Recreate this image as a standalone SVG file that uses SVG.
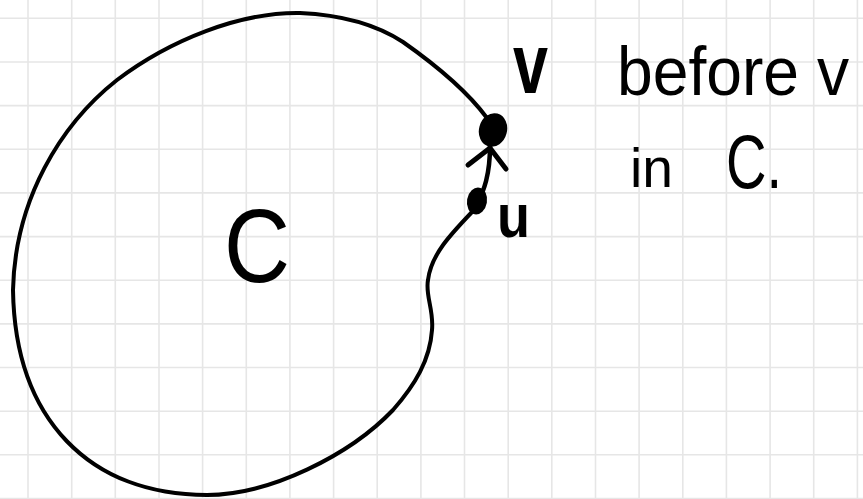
<svg xmlns="http://www.w3.org/2000/svg" width="863" height="499" viewBox="0 0 863 499">
<style>
.grid line{stroke:#e6e6e6;stroke-width:1.6}
.ink{fill:none;stroke:#000;stroke-linecap:round;stroke-linejoin:round}
.dot{fill:#000}
.hand{font-family:"Liberation Sans","DejaVu Sans",sans-serif;fill:#000}
</style>
<rect width="863" height="499" fill="#fff"/>
<g id="grid" class="grid">
<line x1="28" y1="0" x2="28" y2="499"/><line x1="71.7" y1="0" x2="71.7" y2="499"/><line x1="115.3" y1="0" x2="115.3" y2="499"/><line x1="159" y1="0" x2="159" y2="499"/><line x1="202.6" y1="0" x2="202.6" y2="499"/><line x1="246.3" y1="0" x2="246.3" y2="499"/><line x1="289.9" y1="0" x2="289.9" y2="499"/><line x1="333.6" y1="0" x2="333.6" y2="499"/><line x1="377.2" y1="0" x2="377.2" y2="499"/><line x1="420.9" y1="0" x2="420.9" y2="499"/><line x1="464.5" y1="0" x2="464.5" y2="499"/><line x1="508.2" y1="0" x2="508.2" y2="499"/><line x1="551.8" y1="0" x2="551.8" y2="499"/><line x1="595.5" y1="0" x2="595.5" y2="499"/><line x1="639.1" y1="0" x2="639.1" y2="499"/><line x1="682.8" y1="0" x2="682.8" y2="499"/><line x1="726.4" y1="0" x2="726.4" y2="499"/><line x1="770.1" y1="0" x2="770.1" y2="499"/><line x1="813.7" y1="0" x2="813.7" y2="499"/><line x1="857.4" y1="0" x2="857.4" y2="499"/>
<line x1="0" y1="18.3" x2="863" y2="18.3"/><line x1="0" y1="62" x2="863" y2="62"/><line x1="0" y1="105.6" x2="863" y2="105.6"/><line x1="0" y1="149.3" x2="863" y2="149.3"/><line x1="0" y1="192.9" x2="863" y2="192.9"/><line x1="0" y1="236.6" x2="863" y2="236.6"/><line x1="0" y1="280.2" x2="863" y2="280.2"/><line x1="0" y1="323.9" x2="863" y2="323.9"/><line x1="0" y1="367.5" x2="863" y2="367.5"/><line x1="0" y1="411.2" x2="863" y2="411.2"/><line x1="0" y1="454.8" x2="863" y2="454.8"/><line x1="0" y1="498.5" x2="863" y2="498.5"/>
</g>
<g id="connectors">
<path class="ink" stroke-width="4" d="M487,118 C470,95 440,68 403,42 C380,27 345,15 300,13 C240,12 170,40 117,80 C60,125 15,200 13,290 C15,420 90,495 207,495 C270,495 350,455 393,410 C415,385 430,360 432,330 C434,310 425,295 428,280 C431,255 450,235 472,212"/>
<path class="ink" stroke-width="4.5" d="M477,205 C484,190 490,175 490,146"/>
<path class="ink" stroke-width="5" d="M468,165 L490,148 L506,169"/>
</g>
<g id="node-v">
<ellipse class="dot" cx="493" cy="130" rx="14" ry="17" transform="rotate(15 493 130)"/>
<text class="hand" x="513" y="93" font-size="86" font-weight="bold" textLength="35" lengthAdjust="spacingAndGlyphs">v</text>
</g>
<g id="node-u">
<ellipse class="dot" cx="477" cy="201" rx="10" ry="13.5" transform="rotate(10 477 201)"/>
<text class="hand" x="497" y="237" font-size="62" font-weight="bold" textLength="33" lengthAdjust="spacingAndGlyphs">u</text>
</g>
<g id="label-C">
<text class="hand" x="224" y="282" font-size="104" textLength="66" lengthAdjust="spacingAndGlyphs">C</text>
</g>
<g id="note">
<text class="hand" x="617" y="95" font-size="68" textLength="232" lengthAdjust="spacingAndGlyphs">before v</text>
<text class="hand" x="630" y="187" font-size="56" textLength="43" lengthAdjust="spacingAndGlyphs">in</text>
<text class="hand" x="726" y="188" font-size="76" textLength="56" lengthAdjust="spacingAndGlyphs">C.</text>
</g>
</svg>
